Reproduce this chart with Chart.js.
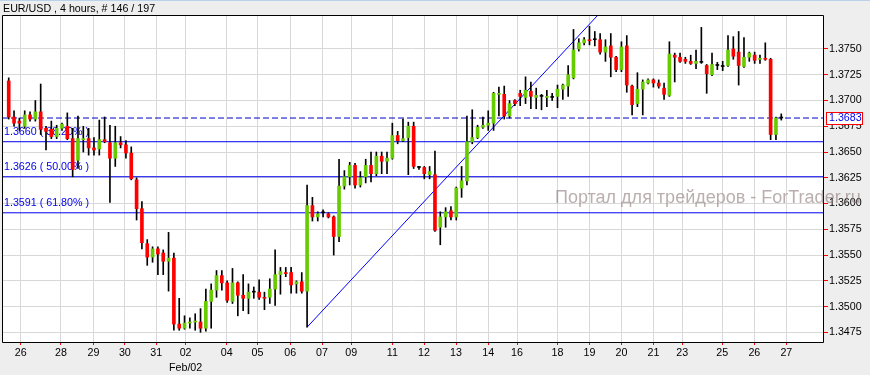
<!DOCTYPE html>
<html>
<head>
<meta charset="utf-8">
<script src="https://cdn.jsdelivr.net/npm/chart.js@4.4.0/dist/chart.umd.min.js"></script>
<style>
body { margin: 0; background: #eeeeee; }
#wrap { width: 870px; height: 375px; }
</style>
</head>
<body>
<div id="wrap"><canvas id="grafico" width="870" height="375"></canvas></div>
<script>
// velas de 4 horas EUR/USD
const precioApertura = [
  1.3719,1.3684,1.3680,1.3675,1.3686,1.3682,1.3689,1.3673,1.3672,1.3665,
  1.3673,1.3675,1.3663,1.3642,1.3662,1.3663,1.3654,1.3653,1.3662,1.3659,
  1.3644,1.3659,1.3657,1.3649,1.3623,1.3595,1.3561,1.3548,1.3556,1.3552,
  1.3544,1.3547,1.3483,1.3479,1.3484,1.3485,1.3485,1.3479,1.3505,1.3516,
  1.3530,1.3523,1.3505,1.3523,1.3511,1.3508,1.3514,1.3514,1.3509,1.3509,
  1.3517,1.3531,1.3533,1.3533,1.3522,1.3524,1.3515,1.3598,1.3587,1.3591,
  1.3590,1.3587,1.3568,1.3617,1.3626,1.3637,1.3618,1.3626,1.3637,1.3629,
  1.3646,1.3641,1.3644,1.3666,1.3661,1.3664,1.3675,1.3635,1.3635,1.3628,
  1.3628,1.3577,1.3587,1.3593,1.3587,1.3615,1.3622,1.3660,1.3664,1.3674,
  1.3676,1.3678,1.3706,1.3706,1.3685,1.3700,1.3707,1.3703,1.3709,1.3703,
  1.3704,1.3703,1.3703,1.3704,1.3711,1.3714,1.3722,1.3750,1.3756,1.3759,
  1.3759,1.3759,1.3747,1.3753,1.3742,1.3730,1.3753,1.3714,1.3697,1.3711,
  1.3717,1.3720,1.3717,1.3712,1.3705,1.3744,1.3742,1.3740,1.3738,1.3736,
  1.3737,1.3734,1.3725,1.3734,1.3733,1.3734,1.3750,1.3747,1.3733,1.3742,
  1.3744,1.3740,1.3741,1.3740,1.3667,1.3683
];
const precioMax = [
  1.3722,1.3690,1.3683,1.3690,1.3689,1.3700,1.3716,1.3675,1.3680,1.3676,
  1.3678,1.3688,1.3673,1.3685,1.3675,1.3673,1.3664,1.3681,1.3684,1.3676,
  1.3675,1.3665,1.3661,1.3655,1.3625,1.3602,1.3565,1.3558,1.3558,1.3555,
  1.3572,1.3552,1.3508,1.3491,1.3489,1.3493,1.3498,1.3517,1.3522,1.3535,
  1.3535,1.3525,1.3537,1.3524,1.3531,1.3522,1.3519,1.3526,1.3514,1.3527,
  1.3555,1.3538,1.3538,1.3538,1.3525,1.3533,1.3618,1.3606,1.3592,1.3594,
  1.3591,1.3588,1.3643,1.3632,1.3640,1.3639,1.3631,1.3643,1.3650,1.3650,
  1.3650,1.3650,1.3678,1.3670,1.3682,1.3679,1.3679,1.3636,1.3636,1.3636,
  1.3651,1.3592,1.3596,1.3597,1.3616,1.3636,1.3685,1.3691,1.3676,1.3684,
  1.3690,1.3708,1.3713,1.3714,1.3700,1.3701,1.3710,1.3723,1.3718,1.3712,
  1.3706,1.3710,1.3707,1.3715,1.3716,1.3734,1.3769,1.3760,1.3761,1.3772,
  1.3767,1.3765,1.3759,1.3765,1.3743,1.3757,1.3763,1.3715,1.3727,1.3720,
  1.3721,1.3721,1.3720,1.3717,1.3757,1.3746,1.3746,1.3742,1.3744,1.3749,
  1.3771,1.3735,1.3746,1.3737,1.3738,1.3763,1.3762,1.3767,1.3761,1.3747,
  1.3747,1.3744,1.3756,1.3741,1.3684,1.3687
];
const precioMin = [
  1.3682,1.3675,1.3671,1.3673,1.3680,1.3680,1.3667,1.3652,1.3663,1.3663,
  1.3671,1.3662,1.3626,1.3634,1.3650,1.3647,1.3647,1.3647,1.3659,1.3601,
  1.3636,1.3654,1.3644,1.3623,1.3584,1.3556,1.3540,1.3543,1.3531,1.3531,
  1.3515,1.3477,1.3477,1.3478,1.3479,1.3477,1.3475,1.3476,1.3479,1.3509,
  1.3516,1.3504,1.3503,1.3491,1.3496,1.3493,1.3508,1.3507,1.3497,1.3503,
  1.3501,1.3512,1.3529,1.3513,1.3513,1.3513,1.3480,1.3583,1.3583,1.3587,
  1.3586,1.3550,1.3563,1.3614,1.3618,1.3615,1.3616,1.3620,1.3621,1.3627,
  1.3629,1.3629,1.3643,1.3658,1.3660,1.3628,1.3634,1.3633,1.3624,1.3624,
  1.3573,1.3560,1.3577,1.3584,1.3584,1.3606,1.3618,1.3658,1.3663,1.3673,
  1.3671,1.3671,1.3685,1.3682,1.3683,1.3695,1.3695,1.3697,1.3692,1.3692,
  1.3691,1.3694,1.3700,1.3693,1.3701,1.3704,1.3721,1.3748,1.3754,1.3754,
  1.3753,1.3745,1.3738,1.3723,1.3728,1.3728,1.3708,1.3686,1.3694,1.3686,
  1.3716,1.3713,1.3712,1.3701,1.3704,1.3718,1.3737,1.3736,1.3735,1.3731,
  1.3736,1.3707,1.3724,1.3730,1.3729,1.3733,1.3740,1.3715,1.3732,1.3738,
  1.3736,1.3736,1.3739,1.3662,1.3662,1.3681
];
const precioCierre = [
  1.3684,1.3678,1.3678,1.3686,1.3682,1.3689,1.3672,1.3670,1.3665,1.3673,
  1.3677,1.3663,1.3633,1.3663,1.3663,1.3654,1.3652,1.3662,1.3660,1.3644,
  1.3659,1.3657,1.3649,1.3624,1.3595,1.3562,1.3548,1.3556,1.3551,1.3544,
  1.3547,1.3483,1.3479,1.3484,1.3485,1.3486,1.3479,1.3505,1.3516,1.3530,
  1.3523,1.3506,1.3523,1.3511,1.3508,1.3514,1.3514,1.3509,1.3508,1.3517,
  1.3531,1.3534,1.3532,1.3521,1.3524,1.3515,1.3598,1.3587,1.3590,1.3591,
  1.3587,1.3568,1.3617,1.3626,1.3637,1.3618,1.3625,1.3637,1.3629,1.3646,
  1.3641,1.3644,1.3666,1.3661,1.3663,1.3675,1.3636,1.3635,1.3629,1.3631,
  1.3574,1.3587,1.3592,1.3587,1.3615,1.3622,1.3660,1.3664,1.3674,1.3676,
  1.3678,1.3707,1.3707,1.3685,1.3697,1.3697,1.3704,1.3710,1.3704,1.3705,
  1.3704,1.3704,1.3703,1.3711,1.3715,1.3725,1.3749,1.3756,1.3759,1.3758,
  1.3759,1.3747,1.3752,1.3742,1.3730,1.3752,1.3715,1.3696,1.3711,1.3718,
  1.3720,1.3717,1.3714,1.3706,1.3745,1.3742,1.3738,1.3738,1.3736,1.3738,
  1.3737,1.3726,1.3735,1.3734,1.3733,1.3749,1.3743,1.3734,1.3742,1.3746,
  1.3739,1.3741,1.3740,1.3667,1.3683,1.3683
];

// marcas del eje de fechas (posicion en velas) y sus textos
const posFechas = [2.25, 9.8, 15.9, 21.8, 27.7, 33.2, 40.9, 46.7, 52.85, 58.8, 64.3, 72,
  77.95, 83.95, 90, 95.4, 103, 109, 115, 121, 126.4, 133.9, 139.95, 145.95];
const textoFechas = ['26','28','29','30','31','02','04','05','06','07','09','11',
  '12','13','14','16','18','19','20','21','23','25','26','27'];
const ticksPrecio = [1.3475,1.3500,1.3525,1.3550,1.3575,1.3600,1.3625,1.3650,1.3675,1.3700,1.3725,1.3750];

const nivelesFibo = [1.3660, 1.3626, 1.3591];
const textoFibo = ['38.20%', '50.00%', '61.80%'];
const precioActual = 1.3683;
const lineaTendencia = [{x: 56, y: 1.3480}, {x: 110.6, y: 1.3783}];

const titulo = 'EUR/USD , 4 hours, # 146 / 197';
const marcaAgua = 'Портал для трейдеров - ForTrader.ru';

const xMin = -1.26, xMax = 152.83;
const yMin = 1.34656, yMax = 1.37830;
const fuente = '"Liberation Sans", Arial, sans-serif';

const indices = precioApertura.map((p, i) => i);
const cuerpos = indices.map(i => ({x: i, y: [precioApertura[i], precioCierre[i]]}));
const mechas = indices.map(i => ({x: i, y: [precioMin[i], precioMax[i]]}));
const colorCuerpo = indices.map(i => {
  if (precioCierre[i] > precioApertura[i]) return '#66cc00';
  if (precioCierre[i] < precioApertura[i]) return '#ff0000';
  return '#000000';
});

const lineaHorizontal = (valor) => [{x: xMin, y: valor}, {x: xMax, y: valor}];

const marco = {
  id: 'marco',
  beforeDraw(chart) {
    const {ctx, chartArea: a} = chart;
    ctx.save();
    ctx.fillStyle = '#eeeeee';
    ctx.fillRect(0, 0, chart.width, chart.height);
    ctx.fillStyle = '#ffffff';
    ctx.fillRect(a.left, a.top, a.right - a.left, a.bottom - a.top);
    ctx.fillStyle = '#b9d1ea';
    ctx.fillRect(0, 0, chart.width, 1);
    ctx.fillStyle = '#000000';
    ctx.font = '10.7px ' + fuente;
    ctx.textBaseline = 'alphabetic';
    ctx.fillText(titulo, 3, 12);
    ctx.restore();
  },
  beforeDatasetsDraw(chart) {
    const {ctx} = chart;
    const y = chart.scales.y;
    ctx.save();
    ctx.fillStyle = '#0000ee';
    ctx.font = '10.7px ' + fuente;
    ctx.textBaseline = 'alphabetic';
    nivelesFibo.forEach((nivel, k) => {
      ctx.fillText(nivel.toFixed(4) + ' ( ' + textoFibo[k] + ' )', 4, y.getPixelForValue(nivel) - 7);
    });
    ctx.restore();
  },
  afterDraw(chart) {
    const {ctx, chartArea: a} = chart;
    const y = chart.scales.y;
    ctx.save();
    ctx.strokeStyle = '#000000';
    ctx.lineWidth = 1;
    ctx.beginPath();
    ctx.moveTo(a.left + 0.5, a.top + 0.5);
    ctx.lineTo(a.right + 0.5, a.top + 0.5);
    ctx.lineTo(a.right + 0.5, a.bottom + 0.5);
    ctx.lineTo(a.left + 0.5, a.bottom + 0.5);
    ctx.closePath();
    ctx.stroke();

    // caja del precio actual
    const py = Math.round(y.getPixelForValue(precioActual));
    ctx.fillStyle = '#ffffff';
    ctx.fillRect(a.right + 3, py - 6, 37, 12);
    ctx.strokeStyle = '#ff0000';
    ctx.strokeRect(a.right + 3.5, py - 5.5, 36, 12);
    ctx.fillStyle = '#0000ee';
    ctx.font = '10.7px ' + fuente;
    ctx.textBaseline = 'middle';
    ctx.fillText(precioActual.toFixed(4), a.right + 6, py + 0.5);

    // marca de agua
    ctx.fillStyle = 'rgba(140,120,120,0.6)';
    ctx.font = '18px ' + fuente;
    ctx.textBaseline = 'alphabetic';
    ctx.fillText(marcaAgua, 555, 203);
    ctx.restore();
  }
};

new Chart(document.getElementById('grafico'), {
  type: 'bar',
  data: {
    datasets: [
      {
        label: 'cuerpos',
        data: cuerpos,
        backgroundColor: colorCuerpo,
        barThickness: 3,
        minBarLength: 1,
        grouped: false,
        order: 0
      },
      {
        label: 'mechas',
        data: mechas,
        backgroundColor: '#000000',
        barThickness: 1,
        grouped: false,
        order: 1
      },
      {
        type: 'line',
        data: lineaTendencia,
        borderColor: '#0000ff',
        borderWidth: 1,
        pointRadius: 0,
        order: 2
      },
      ...nivelesFibo.map(n => ({
        type: 'line',
        data: lineaHorizontal(n),
        borderColor: '#0000ee',
        borderWidth: 1,
        pointRadius: 0,
        order: 3
      })),
      {
        type: 'line',
        data: lineaHorizontal(precioActual),
        borderColor: '#0000cc',
        borderWidth: 1,
        borderDash: [6, 3],
        pointRadius: 0,
        order: 3
      }
    ]
  },
  options: {
    responsive: false,
    animation: false,
    layout: {padding: {top: 15, left: 2, right: 0, bottom: 0}},
    plugins: {legend: {display: false}, tooltip: {enabled: false}},
    scales: {
      x: {
        type: 'linear',
        min: xMin,
        max: xMax,
        offset: false,
        afterBuildTicks: (scale) => { scale.ticks = posFechas.map(v => ({value: v})); },
        afterFit: (scale) => {
          scale.height = 33;
          scale.paddingLeft = 0;
          scale.paddingRight = 0;
        },
        border: {display: false},
        grid: {offset: false, color: '#d8d8d8', tickColor: '#ff0000', tickLength: 3},
        ticks: {
          autoSkip: false,
          maxRotation: 0,
          padding: 1,
          color: '#000000',
          font: {family: fuente, size: 10.7, lineHeight: 1.35},
          callback: (v, i) => textoFechas[i] === '02' ? ['02', 'Feb/02'] : textoFechas[i]
        }
      },
      y: {
        type: 'linear',
        position: 'right',
        min: yMin,
        max: yMax,
        afterBuildTicks: (scale) => { scale.ticks = ticksPrecio.map(v => ({value: v})); },
        afterFit: (scale) => {
          scale.width = 47;
          scale.paddingTop = 0;
          scale.paddingBottom = 0;
        },
        border: {display: false},
        grid: {color: '#d8d8d8', tickColor: '#ff0000', tickLength: 5},
        ticks: {
          padding: 1,
          color: '#000000',
          font: {family: fuente, size: 10.7},
          callback: (v) => v.toFixed(4)
        }
      }
    }
  },
  plugins: [marco]
});
</script>
</body>
</html>
